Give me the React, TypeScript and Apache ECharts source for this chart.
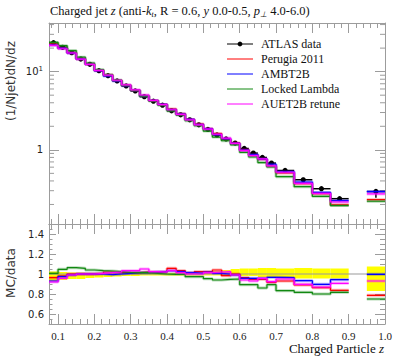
import React, { useEffect, useRef } from 'react';
import * as echarts from 'echarts';

// ---------- data ----------
const binLow = [0.075, 0.1, 0.125, 0.15, 0.175, 0.2, 0.225, 0.25, 0.275, 0.3, 0.325, 0.35, 0.375, 0.4, 0.425, 0.45, 0.475, 0.5, 0.525, 0.55, 0.575, 0.6, 0.625, 0.65, 0.675, 0.7, 0.75, 0.8, 0.85, 0.95];
const binHigh = [0.1, 0.125, 0.15, 0.175, 0.2, 0.225, 0.25, 0.275, 0.3, 0.325, 0.35, 0.375, 0.4, 0.425, 0.45, 0.475, 0.5, 0.525, 0.55, 0.575, 0.6, 0.625, 0.65, 0.675, 0.7, 0.75, 0.8, 0.85, 0.9, 1.0];

const atlasData = [23.5, 20.5, 17.5, 14.5, 12.4, 10.3, 8.89, 7.61, 6.57, 5.67, 4.79, 4.19, 3.72, 3.15, 2.8, 2.42, 2.09, 1.82, 1.55, 1.38, 1.22, 1.04, 0.908, 0.798, 0.676, 0.544, 0.414, 0.318, 0.237, 0.293];
const dataErrUp = [0.025, 0.02, 0.015, 0.015, 0.012, 0.012, 0.01, 0.01, 0.01, 0.01, 0.01, 0.01, 0.01, 0.012, 0.012, 0.015, 0.015, 0.02, 0.03, 0.04, 0.05, 0.055, 0.055, 0.06, 0.06, 0.055, 0.06, 0.055, 0.055, 0.075];
const dataErrDown = [0.07, 0.06, 0.05, 0.05, 0.04, 0.035, 0.03, 0.025, 0.02, 0.02, 0.015, 0.015, 0.015, 0.015, 0.015, 0.015, 0.015, 0.015, 0.015, 0.02, 0.02, 0.02, 0.02, 0.03, 0.03, 0.04, 0.045, 0.045, 0.045, 0.17];

const perugiaRatio = [0.963, 0.98, 1.0, 1.0, 1.0, 1.007, 1.02, 1.013, 1.013, 1.013, 1.02, 1.017, 1.023, 1.057, 1.033, 1.013, 1.023, 1.023, 1.04, 0.983, 1.0, 0.963, 0.947, 0.947, 0.917, 0.93, 0.89, 0.863, 0.837, 0.787];
const ambtRatio = [0.93, 0.973, 0.99, 1.0, 1.0, 1.0, 0.993, 1.0, 1.007, 1.013, 1.013, 1.02, 1.023, 1.033, 1.023, 1.013, 1.007, 1.017, 1.007, 1.0, 0.99, 0.957, 0.957, 0.957, 0.967, 0.963, 0.933, 0.897, 0.943, 0.997];
const lockedRatio = [1.007, 1.047, 1.063, 1.057, 1.04, 1.033, 1.03, 1.023, 1.017, 1.013, 1.013, 1.007, 1.0, 0.997, 0.997, 0.973, 0.973, 0.953, 0.94, 0.947, 0.95, 0.893, 0.893, 0.86, 0.893, 0.833, 0.817, 0.8, 0.817, 0.75];
const auetRatio = [0.92, 0.957, 0.99, 1.0, 1.0, 1.007, 1.013, 1.02, 1.033, 1.033, 1.05, 1.023, 1.02, 1.033, 1.013, 1.0, 1.0, 1.013, 1.02, 1.023, 0.99, 0.94, 0.93, 0.957, 0.923, 0.95, 0.897, 0.87, 0.907, 0.93];

const mcNames = ['Perugia 2011', 'AMBT2B', 'Locked Lambda', 'AUET2B retune'];
const mcColors = ['#ff0000', '#0000ff', '#118811', '#ff00ff'];
const mcRatios = [perugiaRatio, ambtRatio, lockedRatio, auetRatio];

const logMinorTicks = [0.2, 0.3, 0.4, 0.5, 0.6, 0.7, 0.8, 0.9, 2, 3, 4, 5, 6, 7, 8, 9, 20, 30, 40];

const xMin = 0.075;
const xMax = 1.0;
const yMainMin = 0.1125;
const yMainMax = 41.9;
const yRatioMin = 0.5;
const yRatioMax = 1.5;

// ---------- helpers ----------
function stepPoints(vals: number[]) {
  const pts: any[] = [];
  for (let i = 0; i < vals.length; i++) {
    if (i > 0 && binLow[i] > binHigh[i - 1] + 1e-9) {
      pts.push([(binLow[i] + binHigh[i - 1]) / 2, '-']);
    }
    pts.push([binLow[i], vals[i]]);
    pts.push([binHigh[i], vals[i]]);
  }
  return pts;
}

const GRAY = '#9c9c9c';
const SERIF = 'Liberation Serif';
const SANS = 'DejaVu Sans';

function xAxisCfg(gridIndex: number, position: 'top' | 'bottom', labels: boolean) {
  return {
    type: 'value',
    gridIndex,
    position,
    min: xMin,
    max: xMax,
    splitNumber: 9,
    axisLine: { show: true, onZero: false, lineStyle: { color: GRAY, width: 1 } },
    axisTick: { show: true, inside: true, length: 10, lineStyle: { color: GRAY } },
    minorTick: { show: true, splitNumber: 5, length: 5, lineStyle: { color: GRAY } },
    splitLine: { show: false },
    axisLabel: labels
      ? {
          show: true,
          margin: 6,
          fontFamily: SERIF,
          fontSize: 11,
          color: '#222',
          formatter: (v: number) => (Math.abs(v * 10 - Math.round(v * 10)) < 1e-6 ? v.toFixed(1) : ''),
        }
      : { show: false },
  };
}

export default function App() {
  const ref = useRef<HTMLDivElement>(null);
  useEffect(() => {
    if (!ref.current) return;
    const chart = echarts.init(ref.current, undefined, { renderer: 'svg' });

    const series: any[] = [];

    // main panel MC histograms
    mcRatios.forEach((r, k) => {
      const vals = atlasData.map((d, i) => d * r[i]);
      series.push({
        type: 'line',
        xAxisIndex: 0,
        yAxisIndex: 0,
        data: stepPoints(vals),
        symbol: 'none',
        silent: true,
        lineStyle: { color: mcColors[k], width: 3, opacity: 0.3 },
        connectNulls: false,
      });
      series.push({
        type: 'line',
        name: mcNames[k],
        xAxisIndex: 0,
        yAxisIndex: 0,
        data: stepPoints(vals),
        symbol: 'none',
        silent: true,
        lineStyle: { color: mcColors[k], width: 1.2 },
        connectNulls: false,
      });
    });

    // log minor ticks (left & right frame)
    series.push({
      type: 'custom',
      xAxisIndex: 0,
      yAxisIndex: 0,
      silent: true,
      data: logMinorTicks.map((v) => [xMin, v]),
      encode: { x: 0, y: 1 },
      renderItem: (params: any, api: any) => {
        const v = api.value(1);
        const pl = api.coord([xMin, v]);
        const pr = api.coord([xMax, v]);
        return {
          type: 'group',
          children: [
            { type: 'line', shape: { x1: pl[0], y1: pl[1], x2: pl[0] + 5, y2: pl[1] }, style: { stroke: GRAY, lineWidth: 1 } },
            { type: 'line', shape: { x1: pr[0] - 5, y1: pr[1], x2: pr[0], y2: pr[1] }, style: { stroke: GRAY, lineWidth: 1 } },
          ],
        };
      },
    });

    // ATLAS data points
    series.push({
      type: 'custom',
      name: 'ATLAS data',
      xAxisIndex: 0,
      yAxisIndex: 0,
      silent: true,
      data: atlasData.map((v, i) => [binLow[i], binHigh[i], v, dataErrUp[i], dataErrDown[i]]),
      encode: { x: [0, 1], y: 2 },
      renderItem: (params: any, api: any) => {
        const lo = api.value(0);
        const hi = api.value(1);
        const v = api.value(2);
        const eu = api.value(3);
        const ed = api.value(4);
        const mid = (lo + hi) / 2;
        const pL = api.coord([lo, v]);
        const pR = api.coord([hi, v]);
        const pT = api.coord([mid, v * (1 + eu)]);
        const pB = api.coord([mid, v * (1 - ed)]);
        return {
          type: 'group',
          children: [
            { type: 'line', shape: { x1: pL[0], y1: pL[1], x2: pR[0], y2: pR[1] }, style: { stroke: '#000', lineWidth: 1.5 } },
            { type: 'line', shape: { x1: pT[0], y1: pT[1], x2: pB[0], y2: pB[1] }, style: { stroke: '#000', lineWidth: 1.5 } },
            { type: 'circle', shape: { cx: (pL[0] + pR[0]) / 2, cy: pL[1], r: 2.6 }, style: { fill: '#000' } },
          ],
        };
      },
    });

    // ratio panel: data uncertainty band
    series.push({
      type: 'custom',
      xAxisIndex: 2,
      yAxisIndex: 2,
      silent: true,
      data: binLow.map((lo, i) => [lo, binHigh[i], 1 + dataErrUp[i], 1 - dataErrDown[i]]),
      encode: { x: [0, 1], y: [2, 3] },
      renderItem: (params: any, api: any) => {
        const p1 = api.coord([api.value(0), api.value(2)]);
        const p2 = api.coord([api.value(1), api.value(3)]);
        return {
          type: 'rect',
          shape: { x: p1[0], y: p1[1], width: p2[0] - p1[0], height: p2[1] - p1[1] },
          style: { fill: '#ffff00' },
        };
      },
    });

    // ratio reference line at 1
    series.push({
      type: 'line',
      xAxisIndex: 2,
      yAxisIndex: 2,
      data: [[xMin, 1], [xMax, 1]],
      symbol: 'none',
      silent: true,
      lineStyle: { color: '#999', width: 1 },
    });

    // ratio MC lines
    mcRatios.forEach((r, k) => {
      series.push({
        type: 'line',
        xAxisIndex: 2,
        yAxisIndex: 2,
        data: stepPoints(r),
        symbol: 'none',
        silent: true,
        lineStyle: { color: mcColors[k], width: 3, opacity: 0.3 },
        connectNulls: false,
      });
      series.push({
        type: 'line',
        xAxisIndex: 2,
        yAxisIndex: 2,
        data: stepPoints(r),
        symbol: 'none',
        silent: true,
        lineStyle: { color: mcColors[k], width: 1.2 },
        connectNulls: false,
      });
    });

    const legendItems = ['ATLAS data', ...mcNames];
    const legendColors = ['#000', ...mcColors];
    const legendGraphics: any[] = [];
    legendItems.forEach((name, i) => {
      const y = 44 + i * 15;
      legendGraphics.push({
        type: 'line',
        shape: { x1: 227, y1: y, x2: 253, y2: y },
        style: { stroke: legendColors[i], lineWidth: 1 },
        silent: true,
      });
      if (i === 0) {
        legendGraphics.push({ type: 'circle', shape: { cx: 240, cy: y, r: 2.4 }, style: { fill: '#000' }, silent: true });
      }
      legendGraphics.push({
        type: 'text',
        x: 261,
        y,
        style: { text: name, fontFamily: SERIF, fontSize: 12, fill: '#111', verticalAlign: 'middle', align: 'left' },
        silent: true,
      });
    });

    const option: any = {
      animation: false,
      backgroundColor: '#fff',
      grid: [
        { left: 49, top: 23, width: 336, height: 201, show: false },
        { left: 49, top: 224, width: 336, height: 100, show: false },
      ],
      xAxis: [
        xAxisCfg(0, 'bottom', false),
        xAxisCfg(0, 'top', false),
        xAxisCfg(1, 'bottom', true),
        xAxisCfg(1, 'top', false),
      ],
      yAxis: [
        {
          type: 'log',
          logBase: 10,
          gridIndex: 0,
          position: 'left',
          min: yMainMin,
          max: yMainMax,
          axisLine: { show: true, lineStyle: { color: GRAY } },
          axisTick: { show: true, inside: true, length: 10, lineStyle: { color: GRAY } },
          splitLine: { show: false },
          axisLabel: {
            margin: 6,
            fontFamily: SANS,
            fontSize: 10,
            color: '#222',
            formatter: (v: number) => {
              const l = Math.log10(v);
              const r = Math.round(l);
              if (Math.abs(l - r) > 1e-6) return '';
              if (r === 0) return '1';
              return '10{sup|' + r + '}';
            },
            rich: { sup: { fontSize: 7, fontFamily: SANS, verticalAlign: 'top', padding: [0, 0, 6, 0] } },
          },
        },
        {
          type: 'log',
          logBase: 10,
          gridIndex: 0,
          position: 'right',
          min: yMainMin,
          max: yMainMax,
          axisLine: { show: true, lineStyle: { color: GRAY } },
          axisTick: { show: true, inside: true, length: 10, lineStyle: { color: GRAY } },
          splitLine: { show: false },
          axisLabel: { show: false },
        },
        {
          type: 'value',
          gridIndex: 1,
          position: 'left',
          min: yRatioMin,
          max: yRatioMax,
          splitNumber: 5,
          axisLine: { show: true, onZero: false, lineStyle: { color: GRAY } },
          axisTick: { show: true, inside: true, length: 7, lineStyle: { color: GRAY } },
          minorTick: { show: true, splitNumber: 4, length: 3.5, lineStyle: { color: GRAY } },
          splitLine: { show: false },
          axisLabel: {
            margin: 5,
            fontFamily: SANS,
            fontSize: 10,
            color: '#222',
            formatter: (v: number) =>
              Math.abs(v - yRatioMin) < 1e-9 || Math.abs(v - yRatioMax) < 1e-9 ? '' : String(+v.toFixed(2)),
          },
        },
        {
          type: 'value',
          gridIndex: 1,
          position: 'right',
          min: yRatioMin,
          max: yRatioMax,
          splitNumber: 5,
          axisLine: { show: true, onZero: false, lineStyle: { color: GRAY } },
          axisTick: { show: true, inside: true, length: 10, lineStyle: { color: GRAY } },
          minorTick: { show: true, splitNumber: 4, length: 5, lineStyle: { color: GRAY } },
          splitLine: { show: false },
          axisLabel: { show: false },
        },
      ],
      series,
      graphic: [
        {
          type: 'text',
          x: 50,
          y: 11,
          silent: true,
          style: {
            text: 'Charged jet {i|z} (anti-{i|k}{sub|t}, R = 0.6, {i|y} 0.0-0.5, {i|p}{sub|⊥} 4.0-6.0)',
            fontFamily: SERIF,
            fontSize: 12.5,
            fill: '#111',
            verticalAlign: 'middle',
            rich: {
              i: { fontStyle: 'italic', fontFamily: SERIF, fontSize: 12.5 },
              sub: { fontStyle: 'italic', fontFamily: SERIF, fontSize: 8, verticalAlign: 'bottom', padding: [6, 0, 0, 0] },
            },
          },
        },
        {
          type: 'text',
          x: 11,
          y: 81,
          rotation: Math.PI / 2,
          silent: true,
          style: { text: '(1/Njet)dN/dz', fontFamily: SANS, fontSize: 12, fill: '#333', align: 'center', verticalAlign: 'middle' },
        },
        {
          type: 'text',
          x: 11,
          y: 273,
          rotation: Math.PI / 2,
          silent: true,
          style: { text: 'MC/data', fontFamily: SANS, fontSize: 12, fill: '#333', align: 'center', verticalAlign: 'middle' },
        },
        {
          type: 'text',
          x: 384,
          y: 348,
          silent: true,
          style: {
            text: 'Charged Particle {i|z}',
            fontFamily: SERIF,
            fontSize: 13,
            fill: '#111',
            align: 'right',
            verticalAlign: 'middle',
            rich: { i: { fontStyle: 'italic', fontFamily: SERIF, fontSize: 13 } },
          },
        },
        ...legendGraphics,
      ],
    };

    chart.setOption(option);
    return () => chart.dispose();
  }, []);

  return <div ref={ref} style={{ position: 'absolute', left: 0, top: 0, width: 397, height: 358 }} />;
}
